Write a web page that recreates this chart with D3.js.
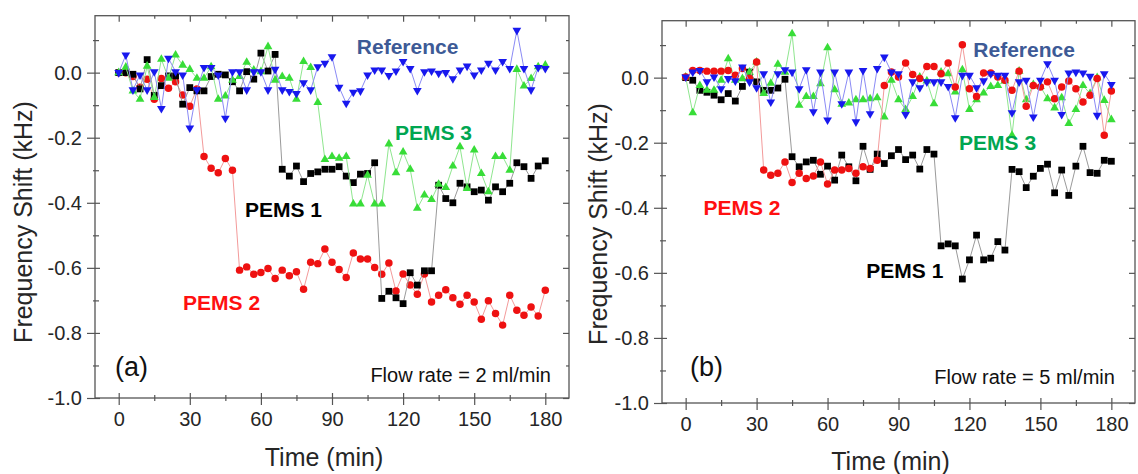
<!DOCTYPE html>
<html><head><meta charset="utf-8">
<script src="https://cdn.jsdelivr.net/npm/d3@7"></script>
<style>
html,body{margin:0;padding:0;background:#fff;}
svg{display:block;font-family:"Liberation Sans",Arial,Helvetica,sans-serif;}
</style></head><body>
<svg id="chart" width="1138" height="474"></svg>
<script>
// Sampling times (min)
const times = [0,3,6,9,12,15,18,21,24,27,30,33,36,39,42,45,48,51,54,57,60,63,66,69,72,75,78,81,84,87,90,
  93,96,99,102,105,108,111,114,117,120,123,126,129,132,135,138,141,144,147,150,153,156,159,162,165,168,171,174,177,180];

// Axis ticks
const xMajorTicks = [0,30,60,90,120,150,180];
const xMinorTicks = [15,45,75,105,135,165];
const yMajorTicks = [0.0,-0.2,-0.4,-0.6,-0.8,-1.0];
const yMinorTicks = [0.1,-0.1,-0.3,-0.5,-0.7,-0.9];

// (a) flow rate 2 ml/min — frequency shift (kHz)
const refA = [0.00,0.054,-0.053,-0.007,-0.053,0.003,-0.11,0.044,0.003,-0.007,
  -0.17,-0.053,0.016,0.016,-0.007,-0.14,0.003,0.003,-0.053,0.003,
  0.003,-0.053,0.01,-0.053,-0.058,-0.064,-0.031,-0.053,0.018,0.029,
  0.049,-0.045,-0.094,-0.06,-0.056,-0.007,0.008,0.008,-0.009,0.005,
  0.034,0.013,-0.055,0.003,0.005,-0.002,0.0,-0.019,0.008,0.02,
  -0.007,0.008,0.029,0.008,0.034,0.013,0.13,0.013,-0.053,0.016,0.013];
const pems1A = [0.0,0.0,-0.005,-0.05,0.04,-0.07,-0.04,-0.01,-0.01,-0.097,
  -0.046,-0.056,-0.056,-0.012,-0.005,-0.007,-0.028,-0.056,0.003,-0.02,
  0.06,0.005,0.056,-0.297,-0.318,-0.287,-0.335,-0.31,-0.305,-0.297,
  -0.297,-0.289,-0.318,-0.338,-0.312,-0.31,-0.277,-0.694,-0.672,-0.692,
  -0.71,-0.615,-0.653,-0.609,-0.609,-0.346,-0.387,-0.40,-0.34,-0.351,
  -0.366,-0.361,-0.392,-0.351,-0.366,-0.34,-0.277,-0.289,-0.325,-0.287,-0.271];
const pems2A = [0.0,0.0,-0.012,-0.045,-0.02,-0.082,-0.018,-0.048,-0.028,-0.069,
  -0.103,-0.05,-0.258,-0.294,-0.308,-0.264,-0.30,-0.607,-0.597,-0.62,
  -0.614,-0.602,-0.633,-0.607,-0.624,-0.612,-0.666,-0.583,-0.587,-0.542,
  -0.583,-0.605,-0.63,-0.554,-0.573,-0.573,-0.599,-0.62,-0.585,-0.671,
  -0.619,-0.653,-0.681,-0.619,-0.705,-0.684,-0.667,-0.692,-0.712,-0.684,
  -0.705,-0.758,-0.701,-0.74,-0.776,-0.684,-0.73,-0.746,-0.72,-0.748,-0.669];
const pems3A = [0.0,0.017,-0.056,-0.082,0.02,-0.076,0.041,-0.017,0.054,0.023,
  0.01,-0.017,-0.017,0.018,-0.082,-0.072,-0.023,-0.012,0.032,0.008,
  0.003,0.08,-0.023,-0.012,-0.017,-0.082,0.034,0.016,-0.092,-0.267,
  -0.258,-0.263,-0.258,-0.404,-0.404,-0.315,-0.404,-0.404,-0.219,-0.308,
  -0.244,-0.297,-0.417,-0.376,-0.39,-0.343,-0.353,-0.287,-0.228,-0.356,
  -0.238,-0.31,-0.366,-0.258,-0.258,-0.30,0.01,-0.041,-0.018,0.018,0.023];

// (b) flow rate 5 ml/min — frequency shift (kHz)
const refB = [0.002,0.017,0.022,-0.013,0.002,-0.034,-0.003,-0.01,0.033,-0.013,
  -0.031,0.012,-0.075,0.012,0.024,0.017,-0.034,0.024,-0.105,0.017,
  -0.13,0.017,-0.08,0.017,-0.136,0.022,-0.111,0.028,0.063,0.017,
  0.012,-0.113,-0.013,-0.031,-0.013,-0.013,-0.013,-0.027,-0.123,0.007,
  0.007,-0.031,-0.01,0.012,0.007,0.007,-0.108,-0.013,-0.008,-0.121,
  -0.008,0.043,-0.008,-0.113,0.014,0.017,0.014,0.004,-0.116,0.012,-0.021];
const pems1B = [0.0,-0.008,-0.039,-0.045,-0.054,-0.068,-0.049,-0.072,-0.027,0.017,
  -0.013,-0.039,-0.039,-0.032,-0.005,-0.243,-0.274,-0.259,-0.254,-0.297,
  -0.272,-0.315,-0.238,-0.274,-0.317,-0.211,-0.282,-0.235,-0.264,-0.24,
  -0.221,-0.252,-0.238,-0.281,-0.221,-0.235,-0.517,-0.511,-0.517,-0.619,
  -0.56,-0.484,-0.56,-0.555,-0.504,-0.53,-0.282,-0.289,-0.338,-0.303,
  -0.279,-0.266,-0.354,-0.284,-0.362,-0.272,-0.211,-0.292,-0.294,-0.254,-0.257];
const pems2B = [0.002,0.022,0.022,0.02,0.02,0.02,0.022,0.007,0.028,-0.003,
  0.048,-0.284,-0.30,-0.294,-0.259,-0.322,-0.294,-0.31,-0.302,-0.259,
  -0.327,-0.284,-0.284,-0.279,-0.294,-0.274,-0.279,-0.254,-0.024,0.017,
  0.002,0.045,0.01,-0.003,0.034,0.034,0.012,0.045,-0.029,0.101,
  -0.034,-0.058,0.014,0.014,0.002,-0.008,-0.039,0.02,-0.088,-0.024,
  -0.029,-0.013,-0.065,-0.029,-0.01,-0.034,-0.075,-0.054,-0.003,-0.177,-0.041];
const pems3B = [0.002,-0.108,-0.024,-0.039,-0.039,-0.008,0.058,-0.008,-0.003,0.017,
  0.048,-0.049,-0.017,0.041,0.017,0.135,-0.085,-0.058,-0.058,-0.019,
  0.092,-0.037,-0.082,-0.078,-0.068,-0.068,-0.065,-0.062,-0.121,-0.008,
  -0.068,-0.098,-0.058,0.002,-0.01,-0.08,0.017,0.012,-0.044,0.024,
  -0.098,-0.068,-0.047,-0.027,-0.024,-0.01,-0.177,0.02,-0.068,-0.021,
  -0.027,-0.065,-0.093,-0.062,-0.141,-0.098,-0.024,-0.049,0.0,-0.07,-0.129];

const xDomain = [-10, 190];
const yDomain = [-1.0, 0.175];

// Series styles: marker shape, marker colour, connecting-line colour
const styles = {
  pems1: {shape: d3.symbolSquare, size: 46, fill: "#000000", line: "#9a9a9a", rot: 0},
  pems2: {shape: d3.symbolCircle, size: 44, fill: "#ee1111", line: "#f39a9a", rot: 0},
  pems3: {shape: d3.symbolTriangle, size: 33, fill: "#38dd38", line: "#8fe68f", rot: 0},
  ref:   {shape: d3.symbolTriangle, size: 33, fill: "#1818ee", line: "#8a8af5", rot: 180}
};

const svg = d3.select("#chart");

function drawPanel(cfg) {
  const {left, right, top, bottom} = cfg.box;
  const x = d3.scaleLinear().domain(xDomain).range([left, right]);
  const y = d3.scaleLinear().domain(yDomain).range([bottom, top]);
  const g = svg.append("g");
  const axisColor = "#555";

  // bottom axis: major ticks cross the frame, minor ticks are short
  const bMaj = g.append("g").attr("transform", `translate(0,${bottom})`)
    .call(d3.axisBottom(x).tickValues(xMajorTicks).tickSize(7).tickPadding(7).tickFormat(d3.format("d")));
  bMaj.selectAll(".tick line").attr("y1", -5);
  const bMin = g.append("g").attr("transform", `translate(0,${bottom})`)
    .call(d3.axisBottom(x).tickValues(xMinorTicks).tickSize(3).tickFormat(""));
  bMin.selectAll(".tick line").attr("y1", -3);
  // top mirror ticks
  g.append("g").attr("transform", `translate(0,${top})`)
    .call(d3.axisTop(x).tickValues(xMajorTicks).tickSize(-6).tickFormat(""));
  g.append("g").attr("transform", `translate(0,${top})`)
    .call(d3.axisTop(x).tickValues(xMinorTicks).tickSize(-3).tickFormat(""));

  // left axis
  const lMaj = g.append("g").attr("transform", `translate(${left},0)`)
    .call(d3.axisLeft(y).tickValues(yMajorTicks).tickSize(8).tickPadding(5).tickFormat(d => d.toFixed(1)));
  lMaj.selectAll(".tick line").attr("x1", 5);
  const lMin = g.append("g").attr("transform", `translate(${left},0)`)
    .call(d3.axisLeft(y).tickValues(yMinorTicks).tickSize(2).tickFormat(""));
  lMin.selectAll(".tick line").attr("x1", 4);
  // right mirror ticks
  g.append("g").attr("transform", `translate(${right},0)`)
    .call(d3.axisRight(y).tickValues(yMajorTicks).tickSize(-6).tickFormat(""));
  g.append("g").attr("transform", `translate(${right},0)`)
    .call(d3.axisRight(y).tickValues(yMinorTicks).tickSize(-3).tickFormat(""));

  g.selectAll(".domain").remove();
  g.selectAll(".tick line").attr("stroke", axisColor).attr("stroke-width", 1.2);
  g.selectAll(".tick text").attr("fill", "#262626").style("font-size", "20px")
    .style("font-family", '"Liberation Sans", Arial, sans-serif');

  // frame
  g.append("rect").attr("x", left).attr("y", top)
    .attr("width", right - left).attr("height", bottom - top)
    .attr("fill", "none").attr("stroke", axisColor).attr("stroke-width", 1.3);

  // axis titles
  g.append("text").attr("x", (left + right) / 2 - 8).attr("y", cfg.xTitleY)
    .attr("text-anchor", "middle").attr("fill", "#262626").style("font-size", "25px")
    .text("Time (min)");
  g.append("text")
    .attr("transform", `translate(${cfg.yTitleX},${cfg.yTitleY}) rotate(-90)`)
    .attr("text-anchor", "middle").attr("dominant-baseline", "central")
    .attr("fill", "#262626").style("font-size", "25px")
    .text("Frequency Shift (kHz)");

  // series
  const line = d3.line().x((d, i) => x(times[i])).y(d => y(d));
  cfg.series.forEach(s => {
    const st = styles[s.key];
    g.append("path").datum(s.values).attr("d", line)
      .attr("fill", "none").attr("stroke", st.line).attr("stroke-width", 1);
    g.append("g").selectAll("path").data(s.values).join("path")
      .attr("d", d3.symbol(st.shape, st.size))
      .attr("transform", (d, i) => `translate(${x(times[i])},${y(d)}) rotate(${st.rot})`)
      .attr("fill", st.fill);
  });

  // annotations placed in data coordinates
  cfg.labels.forEach(l => {
    g.append("text").attr("x", x(l.t)).attr("y", y(l.v))
      .attr("text-anchor", l.anchor || "middle").attr("dominant-baseline", "central")
      .attr("fill", l.color).style("font-size", l.size + "px")
      .style("font-weight", l.bold ? "bold" : "normal")
      .text(l.text);
  });
}

drawPanel({
  box: {left: 95, right: 569, top: 15.7, bottom: 398},
  xTitleY: 466, yTitleX: 23, yTitleY: 222,
  series: [
    {key: "pems2", values: pems2A},
    {key: "pems1", values: pems1A},
    {key: "pems3", values: pems3A},
    {key: "ref", values: refA}
  ],
  labels: [
    {text: "Reference", t: 121.9, v: 0.079, color: "#3d5a96", size: 21, bold: true},
    {text: "PEMS 3", t: 132.8, v: -0.185, color: "#00a651", size: 21, bold: true},
    {text: "PEMS 1", t: 69.5, v: -0.422, color: "#000000", size: 21, bold: true},
    {text: "PEMS 2", t: 43.4, v: -0.705, color: "#ff1010", size: 21, bold: true},
    {text: "(a)", t: -1.6, v: -0.905, color: "#111", size: 27, anchor: "start"},
    {text: "Flow rate = 2 ml/min", t: 182.4, v: -0.929, color: "#111", size: 20, anchor: "end"}
  ]
});

drawPanel({
  box: {left: 662, right: 1135, top: 20.7, bottom: 403},
  xTitleY: 470, yTitleX: 598, yTitleY: 224,
  series: [
    {key: "pems1", values: pems1B},
    {key: "pems3", values: pems3B},
    {key: "pems2", values: pems2B},
    {key: "ref", values: refB}
  ],
  labels: [
    {text: "Reference", t: 143.1, v: 0.088, color: "#3d5a96", size: 21, bold: true},
    {text: "PEMS 3", t: 131.9, v: -0.198, color: "#00a651", size: 21, bold: true},
    {text: "PEMS 2", t: 23.8, v: -0.398, color: "#ff1010", size: 21, bold: true},
    {text: "PEMS 1", t: 92.7, v: -0.594, color: "#000000", size: 21, bold: true},
    {text: "(b)", t: 1.8, v: -0.889, color: "#111", size: 27, anchor: "start"},
    {text: "Flow rate = 5 ml/min", t: 181.5, v: -0.92, color: "#111", size: 20, anchor: "end"}
  ]
});
</script>
</body></html>
